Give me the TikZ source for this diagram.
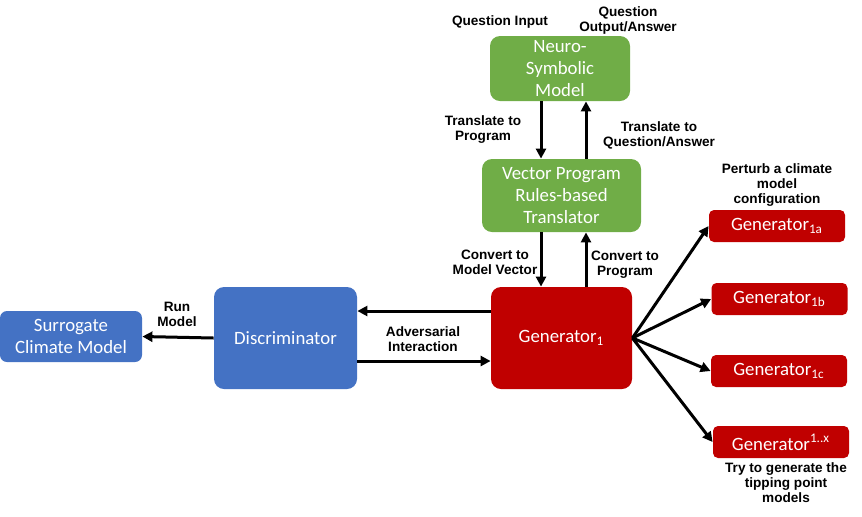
\documentclass[tikz,border=0pt]{standalone}
\usepackage{fontspec}
\setmainfont{Carlito}
\newfontfamily\notefont{Liberation Sans}
\usetikzlibrary{arrows.meta, positioning, calc}
\definecolor{neurogreen}{RGB}{112,173,71}
\definecolor{discblue}{RGB}{68,114,196}
\definecolor{genred}{RGB}{192,0,0}

\begin{document}
\begin{tikzpicture}[
  x=0.5pt, y=-0.5pt,
  every node/.style={font=\fontsize{9.4}{11}\selectfont},
  greenbox/.style={fill=neurogreen, text=white, rounded corners=5pt, align=center, inner sep=0pt},
  bluebox/.style={fill=discblue, text=white, rounded corners=5pt, align=center, inner sep=0pt},
  redbox/.style={fill=genred, text=white, rounded corners=5pt, align=center, inner sep=0pt},
  subgen/.style={fill=genred, text=white, rounded corners=2.5pt, align=center, inner sep=0pt, minimum width=68pt, minimum height=16pt},
  arrow/.style={-{Triangle[length=5pt, width=5pt]}, line width=1.5pt},
  note/.style={font=\notefont\bfseries\fontsize{6.8}{7.5}\selectfont, align=center, inner sep=1pt}
]
  \useasboundingbox (0,0) rectangle (862,516);

  % Neuro-symbolic part
  \node[greenbox, minimum width=70pt, minimum height=32.5pt] (neuro) at (560,68.5) {Neuro-\\Symbolic\\Model};
  \node[greenbox, minimum width=79.5pt, minimum height=36.5pt] (vec) at (561.5,195.5) {Vector Program\\Rules-based\\Translator};

  % GAN part
  \node[redbox, minimum width=70.5pt, minimum height=51pt] (gen) at (561.5,338) {Generator\textsubscript{1}};
  \node[bluebox, minimum width=71.5pt, minimum height=51pt] (disc) at (285.5,338) {Discriminator};
  \node[bluebox, rounded corners=3.5pt, minimum width=71pt, minimum height=25.5pt] (surr) at (71,336.5) {Surrogate\\Climate Model};

  % Perturbed generators
  \node[subgen] (g1a) at (777,226) {Generator\textsubscript{1a}};
  \node[subgen] (g1b) at (779.5,299) {Generator\textsubscript{1b}};
  \node[subgen] (g1c) at (779,371) {Generator\textsubscript{1c}};
  \node[subgen] (g1x) at (781,442) {Generator\textsuperscript{1..x}};

  % Labels
  \node[note] (qin) at (500,22) {Question Input};
  \node[note] (qout) at (628,20) {Question\\Output/Answer};
  \node[note] (tprog) at (483,130) {Translate to\\Program};
  \node[note] (tqa) at (659,135) {Translate to\\Question/Answer};
  \node[note] (cvec) at (495,262) {Convert to\\Model Vector};
  \node[note] (cprog) at (625,265) {Convert to\\Program};
  \node[note] (perturb) at (777,185) {Perturb a climate\\model\\configuration};
  \node[note] (tip) at (786,483) {Try to generate the\\tipping point\\models};
  \node[note] (run) at (177,314) {Run\\Model};
  \node[note] (adv) at (423,339) {Adversarial\\Interaction};

  % Arrows
  \draw[arrow] ($(neuro.south)+(-19,0)$) -- ($(vec.north)+(-20.5,0)$);
  \draw[arrow] ($(vec.north)+(24.5,0)$) -- ($(neuro.south)+(26,0)$);
  \draw[arrow] ($(vec.south)+(-20.5,0)$) -- ($(gen.north)+(-20.5,0)$);
  \draw[arrow] ($(gen.north)+(24.5,0)$) -- ($(vec.south)+(24.5,0)$);
  \draw[arrow] ($(gen.west)+(0,-27)$) -- ($(disc.east)+(0,-27)$);
  \draw[arrow] ($(disc.east)+(0,23)$) -- ($(gen.west)+(0,23)$);
  \draw[arrow] (disc.west) -- (surr.east);
  \foreach \g in {g1a, g1b, g1c, g1x}
    \draw[arrow] (gen.east) -- (\g.west);
\end{tikzpicture}
\end{document}
